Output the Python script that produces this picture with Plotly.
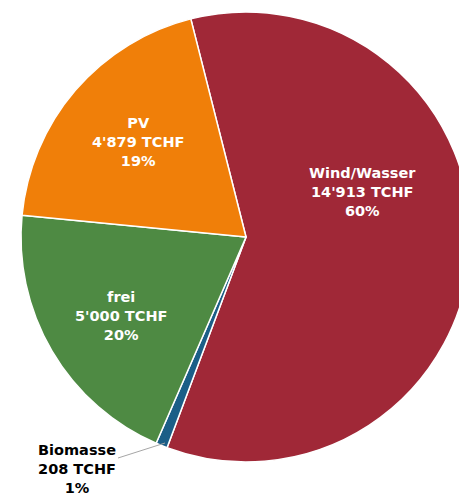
import plotly.graph_objects as go

# Data
categories = ["Wind/Wasser", "Biomasse", "frei", "PV"]
values_tchf = [14913, 208, 5000, 4879]
percent_labels = ["60%", "1%", "20%", "19%"]
value_labels = ["14'913", "208", "5'000", "4'879"]

colors = ["#A02837", "#1B5E87", "#4E8A43", "#F07F09"]
text_colors = ["white", "black", "white", "white"]

# Layout constants (pixels)
W, H = 492, 497
label_pos = [(362, 192), (77, 469), (121, 316), (138, 142)]

fig = go.Figure(go.Pie(
    labels=categories,
    values=values_tchf,
    sort=False,
    direction="clockwise",
    rotation=-14.2,
    marker=dict(colors=colors, line=dict(color="white", width=1.5)),
    textinfo="none",
    hoverinfo="label+value+percent",
    showlegend=False,
    domain=dict(x=[0, 1], y=[(H - 462) / H, (H - 12) / H]),
))

for cat, v, p, (px, py), tc in zip(categories, value_labels, percent_labels, label_pos, text_colors):
    fig.add_annotation(
        x=px / W, y=1 - py / H, xref="paper", yref="paper",
        text=f"<b>{cat}<br>{v} TCHF<br>{p}</b>",
        showarrow=False, xanchor="center", yanchor="middle",
        font=dict(family="DejaVu Sans", size=14.5, color=tc),
    )

# leader line for Biomasse
fig.add_shape(type="line", xref="paper", yref="paper",
              x0=118 / W, y0=1 - 458 / H, x1=165 / W, y1=1 - 443 / H,
              line=dict(color="#A6A6A6", width=1))

fig.update_layout(
    width=W, height=H,
    margin=dict(l=0, r=0, t=0, b=0),
    paper_bgcolor="white", plot_bgcolor="white",
)

fig.write_html("out.html", config={"displayModeBar": False},
               post_script="document.body.style.margin='0';document.body.style.overflow='hidden';document.documentElement.style.overflow='hidden';")
